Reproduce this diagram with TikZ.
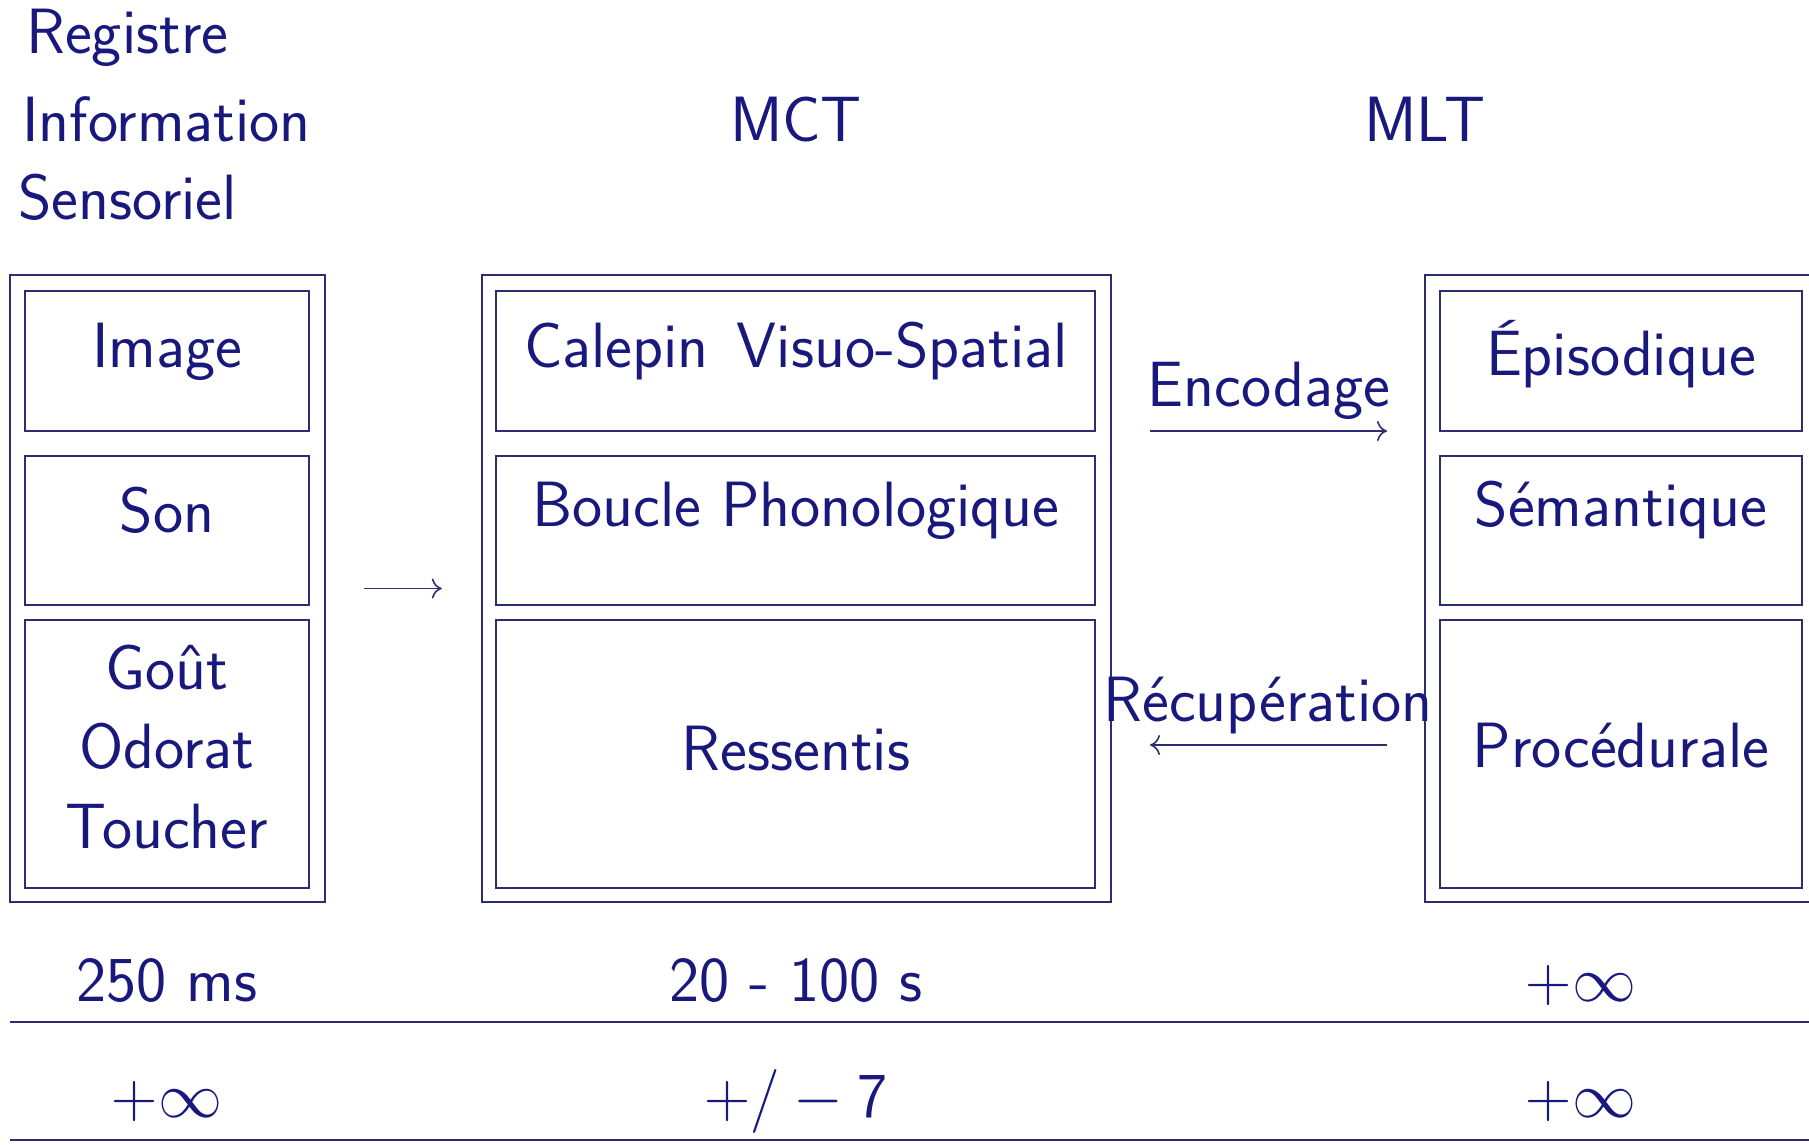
\RequirePackage{fix-cm}
\documentclass[tikz,border=0pt]{standalone}
\usepackage{fontspec}
\usetikzlibrary{arrows.meta,fit}
\definecolor{txt}{RGB}{25,25,125}
\definecolor{ln}{RGB}{45,45,115}
\begin{document}
\begin{tikzpicture}[x=0.5pt,y=-0.5pt,
  box/.style={draw=ln, line width=1.2pt, rectangle, inner sep=0pt},
  lbl/.style={text=txt, font=\sffamily\fontsize{32}{38}\selectfont, anchor=base, inner sep=0pt},
  conn/.style={draw=ln, line width=0.8pt, -{Computer Modern Rightarrow[length=5pt,width=10pt]}},
  rulel/.style={draw=ln, line width=1.1pt}]
\useasboundingbox (0,0) rectangle (1809,1145);
\clip (0,0) rectangle (1809,1145);
% headings
\node[lbl, anchor=base west] (reg) at (26,54) {Registre};
\node[lbl, anchor=base west] (inf) at (22,141) {Information};
\node[lbl, anchor=base west] (sen) at (18,219) {Sensoriel};
\node[lbl] (mct) at (796,141) {MCT};
\node[lbl] (mlt) at (1425,141) {MLT};
% outer boxes
\node[box, fit={(10,275)(325,902)}] (regOut) {};
\node[box, fit={(482,275)(1111,902)}] (mctOut) {};
\node[box, fit={(1425,275)(1817,902)}] (mltOut) {};
% inner boxes left
\node[box, fit={(25,291)(309,431)}] (bImg) {};
\node[box, fit={(25,456)(309,605)}] (bSon) {};
\node[box, fit={(25,620)(309,888)}] (bGou) {};
% inner boxes middle
\node[box, fit={(496,291)(1095,431)}] (bCal) {};
\node[box, fit={(496,456)(1095,605)}] (bBou) {};
\node[box, fit={(496,620)(1095,888)}] (bRes) {};
% inner boxes right
\node[box, fit={(1440,291)(1802,431)}] (bEpi) {};
\node[box, fit={(1440,456)(1802,605)}] (bSem) {};
\node[box, fit={(1440,620)(1802,888)}] (bPro) {};
% box labels
\node[lbl] (tImg) at (167,367) {Image};
\node[lbl] (tSon) at (167,532) {Son};
\node[lbl] (tGou) at (167,689) {Goût};
\node[lbl] (tOdo) at (167,768) {Odorat};
\node[lbl] (tTou) at (167,848) {Toucher};
\node[lbl] (tCal) at (796,367) {Calepin\hspace{4pt} Visuo-Spatial};
\node[lbl] (tBou) at (796,526) {Boucle Phonologique};
\node[lbl] (tRes) at (796,770) {Ressentis};
\node[lbl] (tEpi) at (1621,375) {Épisodique};
\node[lbl] (tSem) at (1621,526) {Sémantique};
\node[lbl] (tPro) at (1621,767) {Procédurale};
% connectors
\draw[conn, shorten <=19pt, shorten >=19.5pt] (regOut) -- (mctOut);
\node[lbl] (tEnc) at (1269,406) {Encodage};
\coordinate (encA) at (1150,431);
\coordinate (encB) at (1387,431);
\draw[conn] (encA) -- (encB);
\node[lbl] (tRec) at (1268,721) {Récupération};
\coordinate (recA) at (1387,745);
\coordinate (recB) at (1150,745);
\draw[conn] (recA) -- (recB);
% table
\node[lbl] (d1) at (167,1001) {250 ms};
\node[lbl] (d2) at (796,1001) {20 - 100 s};
\node[lbl] (d3) at (1581,1001) {$+\infty$};
\coordinate (r1a) at (10,1022);
\coordinate (r1b) at (1809,1022);
\draw[rulel] (r1a) -- (r1b);
\node[lbl] (c1) at (167,1117) {$+\infty$};
\node[lbl] (c2) at (796,1117) {$+/-\mathsf{7}$};
\node[lbl] (c3) at (1581,1117) {$+\infty$};
\coordinate (r2a) at (10,1140);
\coordinate (r2b) at (1809,1140);
\draw[rulel] (r2a) -- (r2b);
\end{tikzpicture}
\end{document}
